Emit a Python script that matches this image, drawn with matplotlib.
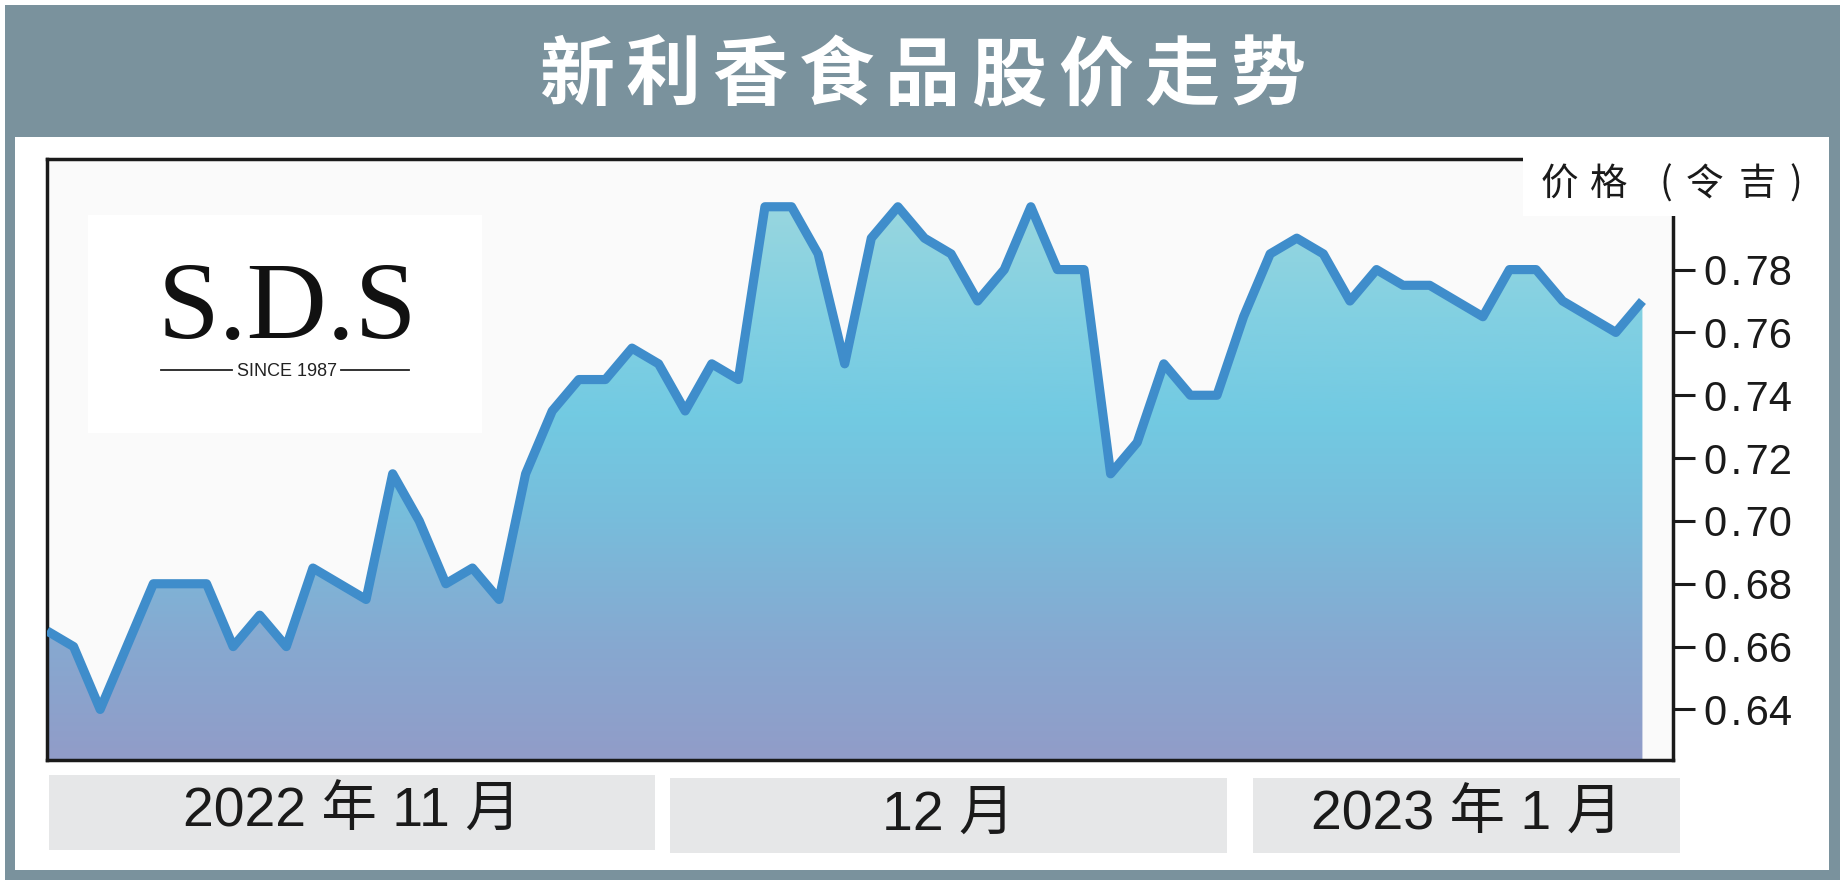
import matplotlib
matplotlib.use("Agg")
import matplotlib.pyplot as plt
import numpy as np
from matplotlib import font_manager
from matplotlib.colors import LinearSegmentedColormap
from matplotlib.patches import Rectangle
from matplotlib.lines import Line2D

# ---------------- data ----------------
title = "新利香食品股价走势"
unit_label = ["价", "格", "(", "令", "吉", ")"]
month_labels = ["2022 年 11 月", "12 月", "2023 年 1 月"]
prices = [0.665, 0.660, 0.640, 0.660, 0.680, 0.680, 0.680, 0.660, 0.670, 0.660,
          0.685, 0.680, 0.675, 0.715, 0.700, 0.680, 0.685, 0.675, 0.715, 0.735,
          0.745, 0.745, 0.755, 0.750, 0.735, 0.750, 0.745, 0.800, 0.800, 0.785,
          0.750, 0.790, 0.800, 0.790, 0.785, 0.770, 0.780, 0.800, 0.780, 0.780,
          0.715, 0.725, 0.750, 0.740, 0.740, 0.765, 0.785, 0.790, 0.785, 0.770,
          0.780, 0.775, 0.775, 0.770, 0.765, 0.780, 0.780, 0.770, 0.765, 0.760,
          0.770]
yticks = [0.64, 0.66, 0.68, 0.70, 0.72, 0.74, 0.76, 0.78]
logo_text = "S.D.S"
logo_sub = "SINCE 1987"

# ---------------- fonts ----------------
available = {f.name for f in font_manager.fontManager.ttflist}
narrow = "Liberation Sans Narrow" if "Liberation Sans Narrow" in available else "Liberation Sans"
CJK = "Noto Sans CJK SC"

W, H = 1845, 883
fig = plt.figure(figsize=(W / 100, H / 100), dpi=100)
fig.patch.set_facecolor("white")


def fx(px):
    return px / W


def fy(py):
    return 1 - py / H


def frect(x0, y0, x1, y1, color, z):
    r = Rectangle((fx(x0), fy(y1)), fx(x1) - fx(x0), fy(y0) - fy(y1),
                  transform=fig.transFigure, facecolor=color, edgecolor="none",
                  zorder=z)
    fig.add_artist(r)
    return r


# frame
frect(5, 5, 1840, 880, "#7a929d", -3)
frect(15, 137, 1829, 870, "white", -2)

# title (spaced characters)
for i, ch in enumerate(title):
    fig.text(fx(577 + i * 86.4), fy(77), ch, color="white", fontsize=54,
             fontweight="heavy", family=[CJK, "DejaVu Sans"],
             ha="center", va="center")

# ---------------- axes ----------------
ax = fig.add_axes([fx(47), fy(760), fx(1673) - fx(47), fy(159) - fy(760)])
ax.set_facecolor("#fafafa")
ylo, yhi = 0.6239, 0.8152
x = np.arange(len(prices))

cmap = LinearSegmentedColormap.from_list(
    "g", [(0.0, "#919cc8"), (0.2, "#87a8d0"), (0.45, "#77bedc"),
          (0.62, "#72cae2"), (0.8, "#82d0e2"), (1.0, "#98d6df")])
grad = np.linspace(0, 1, 256).reshape(-1, 1)
im = ax.imshow(grad, extent=[0, len(prices) - 1, ylo, max(prices)],
               origin="lower", cmap=cmap, aspect="auto", zorder=1,
               interpolation="bilinear")
poly = ax.fill_between(x, prices, ylo, facecolor="none", edgecolor="none")
im.set_clip_path(poly.get_paths()[0], transform=ax.transData)

ax.plot(x, prices, color="#3f8dcb", lw=6.6, solid_joinstyle="round",
        solid_capstyle="butt", zorder=3)

ax.set_xlim(0, 61.15)
ax.set_ylim(ylo, yhi)
ax.set_xticks([])
ax.set_yticks(yticks)
ax.set_yticklabels([f"{v:.2f}".replace(".", "\u200a.\u200a") for v in yticks],
                   fontsize=30, family=["Liberation Sans", "DejaVu Sans"],
                   color="#1a1a1a")
ax.yaxis.tick_right()
ax.tick_params(axis="y", direction="out", length=16, width=2.2, pad=6,
               colors="#1a1a1a", labelcolor="#1a1a1a")
for s in ax.spines.values():
    s.set_linewidth(2.5)
    s.set_color("#1a1a1a")

# white box behind unit label (covers end of top spine)
frect(1523, 140, 1829, 216, "white", 2)
ux = [1559, 1609, 1666, 1704, 1757, 1796]
for cx, ch in zip(ux, unit_label):
    fig.text(fx(cx), fy(184), ch, fontsize=27, family=[CJK, "DejaVu Sans"],
             color="#1a1a1a", ha="center", va="center", zorder=3)

# logo
frect(88, 215, 482, 433, "white", 2)
fig.text(fx(287), fy(338), logo_text, fontsize=80,
         family=["Liberation Serif", "DejaVu Serif"], color="#111111",
         ha="center", va="baseline", zorder=3)
fig.text(fx(287), fy(371), logo_sub, fontsize=13,
         family=["Liberation Sans", "DejaVu Sans"], color="#222222",
         ha="center", va="center", zorder=3)
for (a, b) in [(161, 232), (341, 409)]:
    fig.add_artist(Line2D([fx(a), fx(b)], [fy(370), fy(370)], lw=1.3,
                          color="#222222", transform=fig.transFigure, zorder=3))

# month boxes
boxes = [(49, 775, 655, 850), (670, 778, 1227, 853), (1253, 778, 1680, 853)]
for (x0, y0, x1, y1), lab in zip(boxes, month_labels):
    frect(x0, y0, x1, y1, "#e6e7e8", 1)
    fig.text(fx((x0 + x1) / 2), fy((y0 + y1) / 2), lab, fontsize=40,
             family=[narrow, CJK, "DejaVu Sans"], color="#1a1a1a",
             ha="center", va="center", zorder=3)

fig.savefig("out.png", dpi=100, facecolor="white")
